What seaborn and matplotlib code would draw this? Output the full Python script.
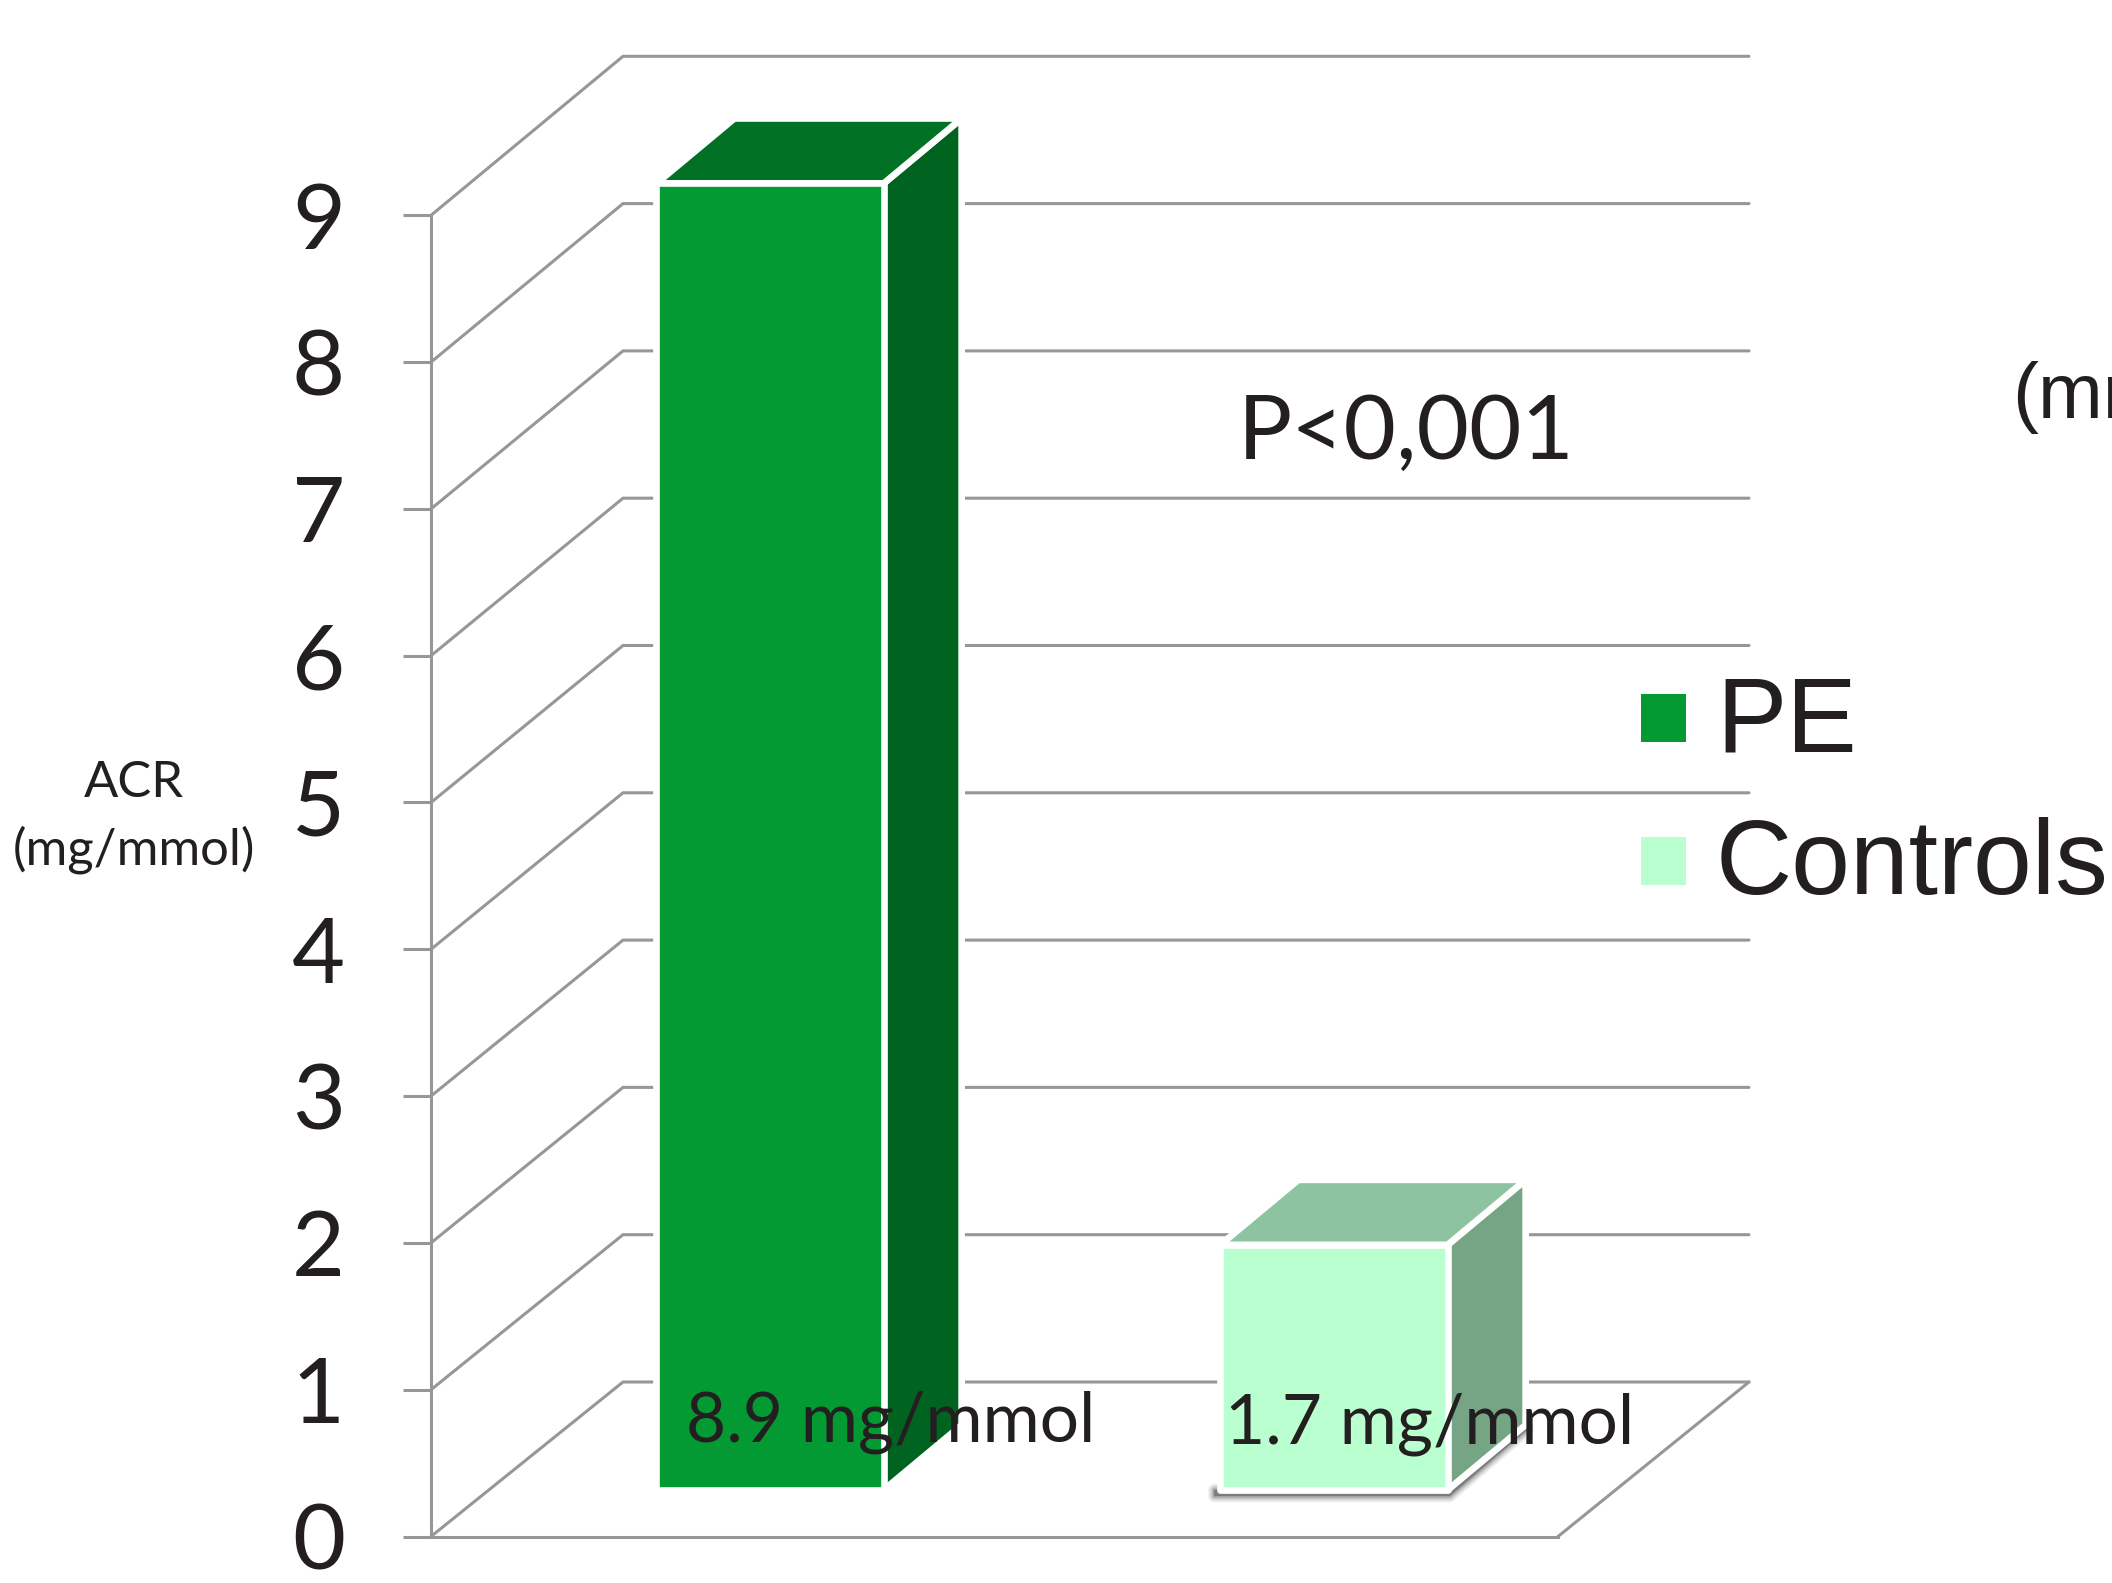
import matplotlib
matplotlib.use("Agg")
import matplotlib.pyplot as plt
from matplotlib.patches import Patch
import pandas as pd
import seaborn as sns

# ---- data
groups = ["PE", "Controls"]
acr_values = [8.9, 1.67]
value_labels = ["8.9 mg/mmol", "1.7 mg/mmol"]
tick_values = [0, 1, 2, 3, 4, 5, 6, 7, 8, 9]
front_colors = ["#039933", "#B9FFCF"]
side_colors = ["#006420", "#76A585"]
top_colors = ["#017225", "#8DC3A0"]

# ---- layout (pixels of the 2112x1583 canvas)
W, H = 2112, 1583
AX_L, AX_R, Y0_PX = 431, 2112, 1536.5
PX_PER_UNIT = 146.8
CAT0_PX, PX_PER_CAT = 770, 564
BACK_X_PX, BACK_Y0_PX, BACK_STEP = 623, 1382, 147.3
WALL_R_PX, FLOOR_R_PX = 1749, 1558
INK, GRID = "#231F20", "#979797"
LINE_W = 2.2
EDGE_W = 4.8

sns.set_theme(style="white", rc={"axes.linewidth": LINE_W})
plt.rcParams["font.family"] = ["Lato", "DejaVu Sans"]

fig = plt.figure(figsize=(W / 100, H / 100), dpi=100, facecolor="white")
ax = fig.add_axes([AX_L / W, (H - Y0_PX) / H, (AX_R - AX_L) / W, Y0_PX / H])
ax.patch.set_alpha(0)


def dx(px):
    return (px - CAT0_PX) / PX_PER_CAT


def dy(py):
    return (Y0_PX - py) / PX_PER_UNIT


def fx(px):
    return px / W


def fy(py):
    return 1 - py / H


frame = pd.DataFrame({"group": groups, "acr": acr_values})
sns.barplot(
    data=frame, x="group", y="acr", hue="group", palette=front_colors, legend=False,
    saturation=1, width=0.403, gap=0, dodge=False, edgecolor="white", linewidth=EDGE_W,
    zorder=5, ax=ax, errorbar=None,
)
ax.set_xlim(dx(AX_L), dx(AX_R))
ax.set_ylim(0, dy(0))

# bars stand in the middle of the floor
base = dy(1490)
depth_x, depth_y = 78 / PX_PER_CAT, 65 / PX_PER_UNIT
bars = sorted(ax.patches, key=lambda p: p.get_x())
for bar in bars:
    bar.set_y(base)
    bar.set_joinstyle("round")

# walls and floor
for v in tick_values:
    y_back = dy(BACK_Y0_PX - BACK_STEP * v)
    ax.plot([dx(AX_L), dx(BACK_X_PX), dx(WALL_R_PX)], [v, y_back, y_back],
            color=GRID, lw=LINE_W, zorder=1, solid_joinstyle="miter", clip_on=False)
ax.plot([dx(FLOOR_R_PX), dx(WALL_R_PX)], [0, dy(BACK_Y0_PX)], color=GRID, lw=LINE_W, zorder=1)

# 3-D faces of the bars
for i, bar in enumerate(bars):
    x0, x1 = bar.get_x(), bar.get_x() + bar.get_width()
    top = base + bar.get_height()
    ax.fill([x1, x1 + depth_x, x1 + depth_x, x1],
            [top, top + depth_y, base + depth_y, base],
            facecolor=side_colors[i], edgecolor="white", lw=EDGE_W, joinstyle="round", zorder=4)
    ax.fill([x0, x1, x1 + depth_x, x0 + depth_x],
            [top, top, top + depth_y, top + depth_y],
            facecolor=top_colors[i], edgecolor="white", lw=EDGE_W, joinstyle="round", zorder=4)
    if i == 1:
        # soft shadow under the pale bar
        for lw, alpha in [(9, 0.10), (6.5, 0.14), (4, 0.20), (2, 0.25)]:
            ax.fill([x0 - 6 / PX_PER_CAT, x1 + 2 / PX_PER_CAT, x1 + depth_x + 2 / PX_PER_CAT,
                     x1 + depth_x, x1, x0 - 6 / PX_PER_CAT],
                    [base - 6 / PX_PER_UNIT, base - 6 / PX_PER_UNIT, base + depth_y - 4 / PX_PER_UNIT,
                     base + depth_y, base, base],
                    facecolor="#555555", edgecolor="#555555", lw=lw, alpha=alpha,
                    joinstyle="round", zorder=2)
    ax.text(dx([686, 1225][i]), dy([1442, 1444][i]), value_labels[i],
            fontsize=50, color=INK, ha="left", va="baseline", zorder=7)

# axes
sns.despine(ax=ax, top=True, right=True)
ax.spines["left"].set_bounds(0, 9)
ax.spines["bottom"].set_bounds(dx(AX_L), dx(FLOOR_R_PX))
for s in ("left", "bottom"):
    ax.spines[s].set_color(GRID)
    ax.spines[s].set_zorder(1)
ax.set_xticks([])
ax.set_yticks(tick_values)
ax.tick_params(axis="y", left=True, length=20, width=LINE_W, color=GRID, pad=42,
               labelsize=66, labelcolor=INK)
ax.set_xlabel("")
ax.set_ylabel("ACR\n(mg/mmol)", rotation=0, fontsize=36.5, color=INK, ha="center", va="center",
              linespacing=1.5)
ax.yaxis.set_label_coords((134 - AX_L) / (AX_R - AX_L), (Y0_PX - 817) / Y0_PX)

# annotations
fig.text(fx(1238), fy(434), "P<0,001", fontsize=65, color=INK, ha="left", va="center")
fig.text(fx(2012), fy(398), "(mmol)", fontsize=56, color=INK, ha="left", va="center",
         family=["Liberation Sans"])

# legend
handles = [Patch(facecolor=c, edgecolor="none") for c in front_colors]
leg = ax.legend(handles, groups, loc="upper left", bbox_to_anchor=(fx(1641), fy(674)),
                bbox_transform=fig.transFigure, frameon=False, borderpad=0, borderaxespad=0,
                handlelength=0.43, handleheight=0.322, handletextpad=0.28, labelspacing=0.42,
                prop={"family": "Liberation Sans", "size": 76}, labelcolor=INK)
for p in leg.get_patches():
    p.set_y(p.get_y() - 3.6)

fig.savefig("out.png", dpi=100, facecolor="white")
